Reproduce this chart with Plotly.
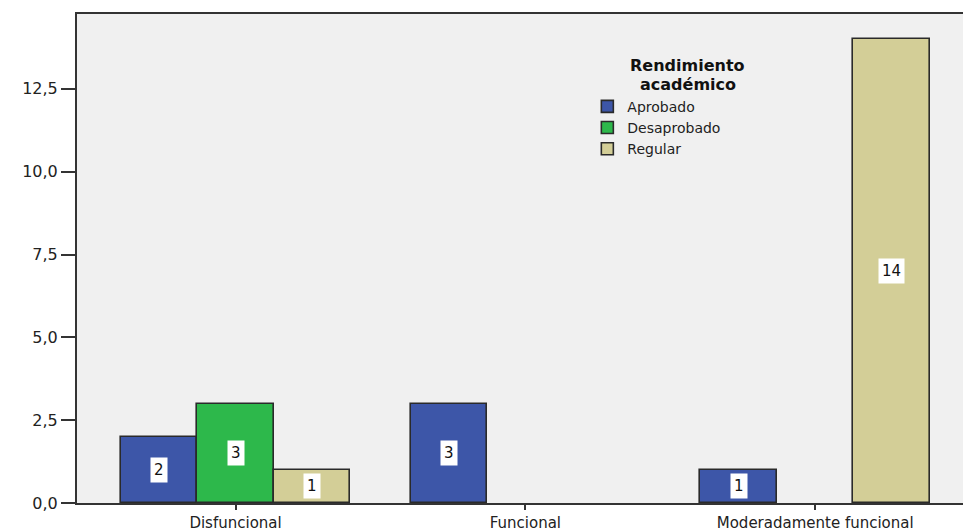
import plotly.graph_objects as go

categories = ["Disfuncional", "Funcional", "Moderadamente funcional"]
series_names = ["Aprobado", "Desaprobado", "Regular"]
aprobado = [2, 3, 1]
desaprobado = [3, None, None]
regular = [1, None, 14]
y_ticks = [0, 2.5, 5.0, 7.5, 10.0, 12.5]
legend_title = ["Rendimiento", "académico"]

series_values = [aprobado, desaprobado, regular]
colors = ["#3D56A8", "#2DB84B", "#D3CE97"]
bar_w = 0.264
offsets = [-bar_w, 0.0, bar_w]
FONT = "DejaVu Sans, Liberation Sans, Arial"

fig = go.Figure()
annotations = []
for name, vals, col, off in zip(series_names, series_values, colors, offsets):
    xs = [i + off for i in range(len(categories))]
    fig.add_trace(go.Bar(
        x=xs, y=vals, name=name, width=bar_w,
        marker=dict(color=col, line=dict(color="#2a2a2a", width=1.6)),
        hoverinfo="skip",
    ))
    for x, v in zip(xs, vals):
        if v:
            annotations.append(dict(
                x=x, y=v / 2, text=str(v), showarrow=False,
                font=dict(family=FONT, size=15, color="#111"),
                bgcolor="white", borderpad=3,
            ))

for k, line in enumerate(legend_title):
    annotations.append(dict(
        xref="paper", yref="paper", x=0.6896, y=[0.895, 0.855][k],
        xanchor="center", yanchor="middle", showarrow=False,
        text="<b>%s</b>" % line,
        font=dict(family=FONT, size=16, color="#111"),
    ))

fig.update_layout(
    width=965, height=531,
    margin=dict(l=77, r=2, t=14, b=28),
    paper_bgcolor="white", plot_bgcolor="#F0F0F0",
    separators=",.",
    font=dict(family=FONT, size=16, color="#222"),
    showlegend=True,
    legend=dict(
        x=0.576, y=0.843, xanchor="left", yanchor="top",
        bgcolor="rgba(0,0,0,0)",
        font=dict(family=FONT, size=14, color="#222"),
        itemwidth=30, tracegroupgap=0,
    ),
    annotations=annotations,
    bargap=0, barmode="overlay",
)
fig.update_xaxes(
    range=[-0.547, 2.51],
    tickvals=list(range(len(categories))), ticktext=categories,
    ticks="outside", ticklen=5, tickcolor="#333", tickwidth=1.5,
    showline=True, linecolor="#333", linewidth=1.5, mirror=True,
    showgrid=False, zeroline=False, automargin=False,
    tickfont=dict(family=FONT, size=15, color="#222"),
)
fig.update_yaxes(
    range=[0, 14.76],
    tickvals=y_ticks, tickformat=".1f",
    ticks="outside", ticklen=14, tickcolor="#333", tickwidth=1.5,
    showline=True, linecolor="#333", linewidth=2,
    showgrid=False, zeroline=False, automargin=False,
    tickfont=dict(family=FONT, size=16, color="#222"),
)

fig.write_html("out.html", config={"displayModeBar": False},
               post_script="document.body.style.margin='0';")
